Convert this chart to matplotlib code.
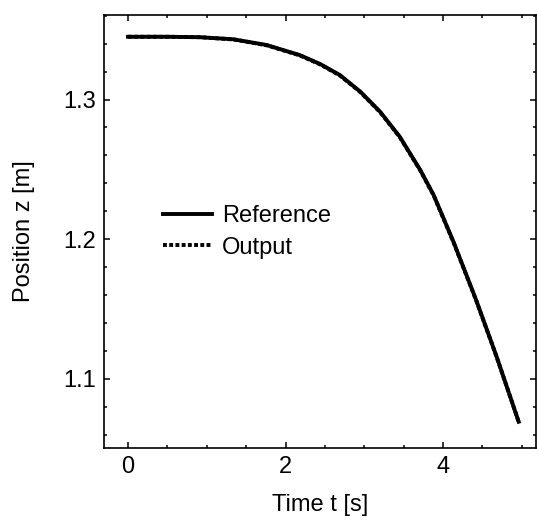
import matplotlib
matplotlib.use('Agg')
import matplotlib.pyplot as plt
from matplotlib.ticker import MultipleLocator

plt.rcParams['font.family'] = ['Liberation Sans', 'DejaVu Sans']

# values
t = [0.0, 0.5, 0.91, 1.34, 1.76, 2.18, 2.44, 2.69, 2.95, 3.2, 3.45, 3.71, 3.88,
     4.13, 4.42, 4.68, 4.96]
z_ref = [1.3449, 1.3449, 1.3446, 1.3431, 1.3390, 1.3318, 1.3254, 1.3175, 1.3056,
         1.2913, 1.2734, 1.2496, 1.2317, 1.1985, 1.1565, 1.1160, 1.0694]
z_out = [1.3449, 1.3449, 1.3446, 1.3430, 1.3388, 1.3316, 1.3251, 1.3172, 1.3053,
         1.2910, 1.2731, 1.2493, 1.2314, 1.1982, 1.1563, 1.1158, 1.0694]

fig = plt.figure(figsize=(5.37, 5.21), dpi=100)
ax = fig.add_axes([104/537, 1-448/521, 432/537, 433.3/521])

ax.plot(t, z_ref, color='black', lw=2.8, label='Reference', solid_joinstyle='round')
ax.plot(t, z_out, color='black', lw=2.8, ls=(0, (1, 0.6)), label='Output')

ax.set_xlim(-0.305, 5.18)
ax.set_ylim(1.0506, 1.3607)
ax.xaxis.set_major_locator(MultipleLocator(2))
ax.xaxis.set_minor_locator(MultipleLocator(0.5))
ax.yaxis.set_major_locator(MultipleLocator(0.1))
ax.yaxis.set_minor_locator(MultipleLocator(0.02))
ax.tick_params(which='both', direction='in', top=True, right=True, labelsize=17, width=1.1)
ax.tick_params(which='major', length=4, pad=6)
ax.tick_params(which='minor', length=2)
for s in ax.spines.values():
    s.set_linewidth(1.2)

ax.set_xlabel('Time t [s]', fontsize=17, labelpad=11)
ax.set_ylabel('Position z [m]', fontsize=17, labelpad=20)

ax.legend(loc='center left', bbox_to_anchor=(0.136, 0.4985), frameon=False, fontsize=17,
          handlelength=2.1, handletextpad=0.4, labelspacing=0.4,
          borderpad=0, borderaxespad=0)

fig.savefig('out.png', dpi=100)
